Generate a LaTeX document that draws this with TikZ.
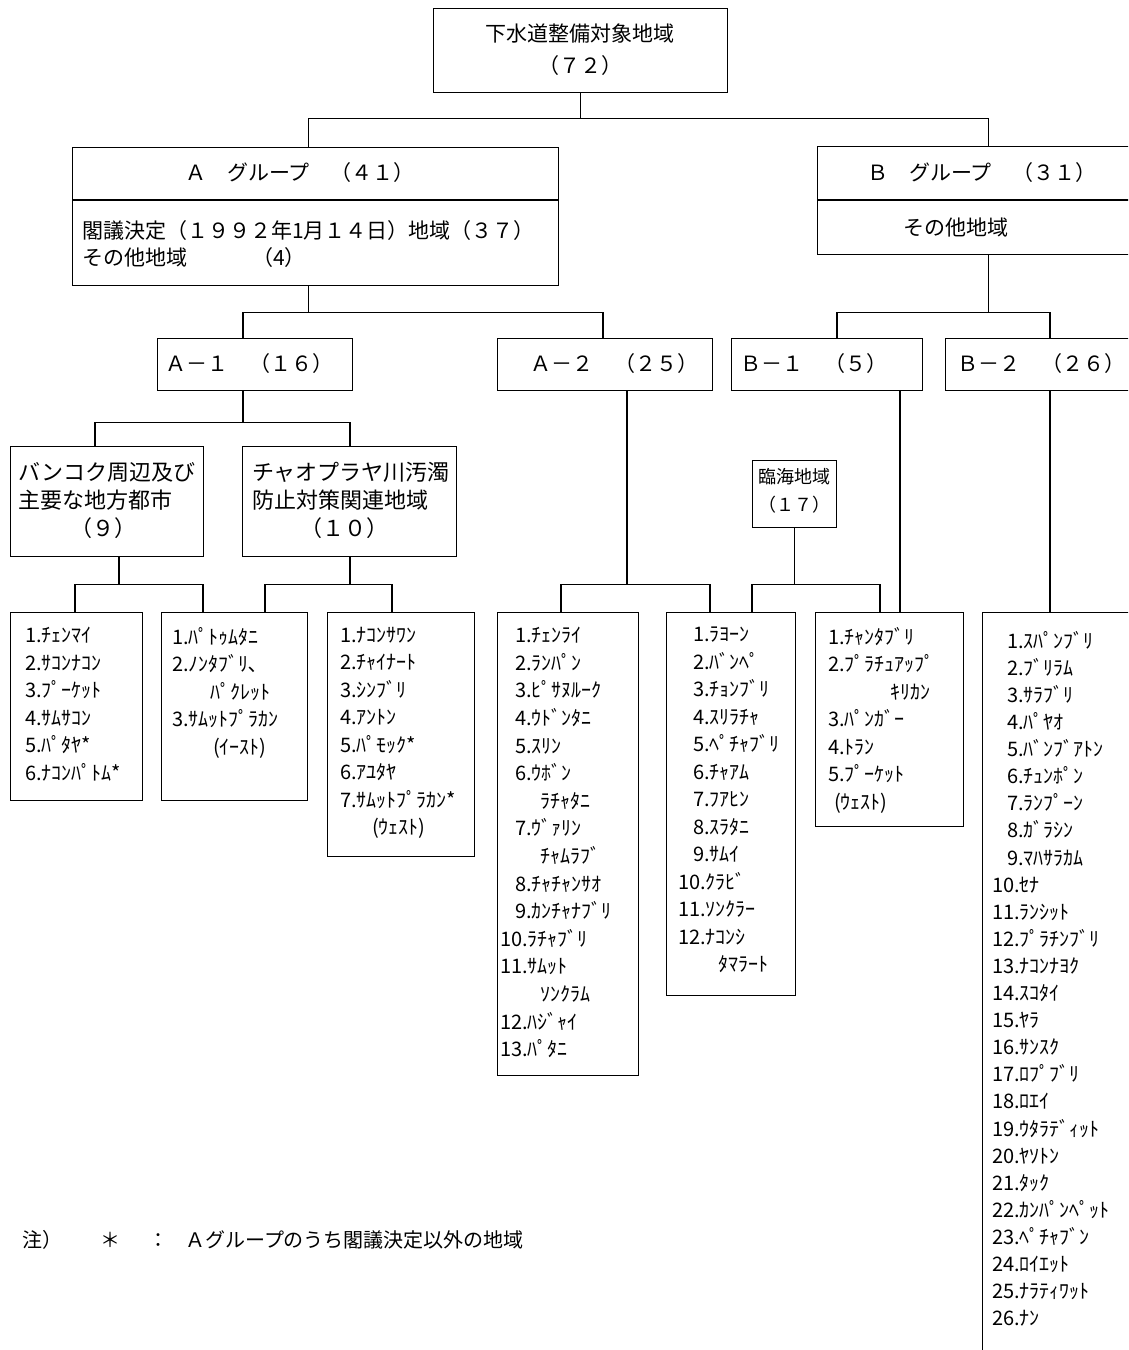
\documentclass[tikz,border=0pt]{standalone}
\usepackage{fontspec}
\setmainfont{Noto Sans CJK JP}
\newcommand\lsi{\hspace*{15pt}}
\tikzset{
  bx/.style={draw, line width=1.2pt, inner sep=0pt, anchor=north west},
  cn/.style={line width=1.2pt},
  bt/.style={font=\fontsize{21}{27}\selectfont, inner sep=0pt},
  lt/.style={font=\fontsize{20}{27.5}\selectfont, align=left, inner sep=0pt, anchor=north west},
}
\begin{document}
\begin{tikzpicture}[x=1pt,y=-1pt]
\useasboundingbox (0,0) rectangle (1128,1350);
\clip (0,0) rectangle (1128,1350);
\fill[white] (0,0) rectangle (1128,1350);

% ---------- boxes ----------
\node[bx, minimum width=294pt, minimum height=84pt]  (top) at (433,8) {};
\node[bx, minimum width=486pt, minimum height=138pt] (A)   at (72,147) {};
\node[bx, minimum width=342pt, minimum height=108pt] (B)   at (817,146) {};
\node[bx, minimum width=195pt, minimum height=52pt]  (A1)  at (157,338) {};
\node[bx, minimum width=215pt, minimum height=52pt]  (A2)  at (497,338) {};
\node[bx, minimum width=191pt, minimum height=52pt]  (B1)  at (731,338) {};
\node[bx, minimum width=200pt, minimum height=52pt]  (B2)  at (945,338) {};
\node[bx, minimum width=193pt, minimum height=110pt] (BK)  at (10,446) {};
\node[bx, minimum width=214pt, minimum height=110pt] (CH)  at (242,446) {};
\node[bx, minimum width=84pt,  minimum height=67pt]  (RK)  at (752,460) {};
\node[bx, minimum width=132pt, minimum height=188pt] (L1)  at (10,612) {};
\node[bx, minimum width=146pt, minimum height=188pt] (L2)  at (161,612) {};
\node[bx, minimum width=147pt, minimum height=244pt] (L3)  at (327,612) {};
\node[bx, minimum width=141pt, minimum height=463pt] (L4)  at (497,612) {};
\node[bx, minimum width=129pt, minimum height=383pt] (L5)  at (666,612) {};
\node[bx, minimum width=148pt, minimum height=214pt] (L6)  at (815,612) {};
\node[bx, minimum width=170pt, minimum height=760pt] (L7)  at (982,612) {};

% dividers
\draw[cn] ([yshift=-53pt]A.north west) -- ([yshift=-53pt]A.north east);
\draw[cn] ([yshift=-54pt]B.north west) -- ([yshift=-54pt]B.north east);

% ---------- box texts ----------
\node[bt, align=center, font=\fontsize{21}{32}\selectfont] (topT) at (580,50) {下水道整備対象地域\\（７２）};
\node[bt] (AT1) at (300,173) {Ａ　グループ　（４１）};
\node[bt, align=left, anchor=north west] (AT2) at (82,220) {閣議決定（１９９２年1月１４日）地域（３７）\\その他地域\hspace{65pt}（4）};
\node[bt] (BT1) at (982,173) {Ｂ　グループ　（３１）};
\node[bt] (BT2) at (956,228) {その他地域};
\node[bt, anchor=west] (A1T) at (165,364) {Ａ－１　（１６）};
\node[bt, anchor=west] (A2T) at (530,364) {Ａ－２　（２５）};
\node[bt, anchor=west] (B1T) at (740,364) {Ｂ－１　（５）};
\node[bt, anchor=west] (B2T) at (957,364) {Ｂ－２　（２６）};
\node[bt, align=left, anchor=north west, font=\fontsize{22}{28}\selectfont] (BKT) at (18,462)
  {バンコク周辺及び\\主要な地方都市\\\hspace*{52pt}（９）};
\node[bt, align=left, anchor=north west, font=\fontsize{22}{28}\selectfont] (CHT) at (252,462)
  {チャオプラヤ川汚濁\\防止対策関連地域\\\hspace*{48pt}（１０）};
\node[bt, align=center, font=\fontsize{18}{28}\selectfont] (RKT) at (794,491) {臨海地域\\（１７）};

% ---------- lists ----------
\node[lt] (L1T) at (25,627) {1.ﾁｪﾝﾏｲ\\2.ｻｺﾝﾅｺﾝ\\3.ﾌﾟｰｹｯﾄ\\4.ｻﾑｻｺﾝ\\5.ﾊﾟﾀﾔ*\\6.ﾅｺﾝﾊﾟﾄﾑ*};
\node[lt] (L2T) at (172,627) {1.ﾊﾟﾄｩﾑﾀﾆ\\2.ﾉﾝﾀﾌﾞﾘ､\\\hspace*{38pt}ﾊﾟｸﾚｯﾄ\\3.ｻﾑｯﾄﾌﾟﾗｶﾝ\\\hspace*{41pt}(ｲｰｽﾄ)};
\node[lt] (L3T) at (340,627) {1.ﾅｺﾝｻﾜﾝ\\2.ﾁｬｲﾅｰﾄ\\3.ｼﾝﾌﾞﾘ\\4.ｱﾝﾄﾝ\\5.ﾊﾟﾓｯｸ*\\6.ｱﾕﾀﾔ\\7.ｻﾑｯﾄﾌﾟﾗｶﾝ*\\\hspace*{32pt}(ｳｪｽﾄ)};
\node[lt, font=\fontsize{20}{27.6}\selectfont] (L4T) at (500,627) {\lsi 1.ﾁｪﾝﾗｲ\\\lsi 2.ﾗﾝﾊﾟﾝ\\\lsi 3.ﾋﾟｻﾇﾙｰｸ\\\lsi 4.ｳﾄﾞﾝﾀﾆ\\\lsi 5.ｽﾘﾝ\\\lsi 6.ｳﾎﾞﾝ\\\hspace*{40pt}ﾗﾁｬﾀﾆ\\\lsi 7.ｳﾞｧﾘﾝ\\\hspace*{40pt}ﾁｬﾑﾗﾌﾞ\\\lsi 8.ﾁｬﾁｬﾝｻｵ\\\lsi 9.ｶﾝﾁｬﾅﾌﾞﾘ\\10.ﾗﾁｬﾌﾞﾘ\\11.ｻﾑｯﾄ\\\hspace*{40pt}ｿﾝｸﾗﾑ\\12.ﾊｼﾞｬｲ\\13.ﾊﾟﾀﾆ};
\node[lt] (L5T) at (678,627) {\lsi 1.ﾗﾖｰﾝ\\\lsi 2.ﾊﾞﾝﾍﾟ\\\lsi 3.ﾁｮﾝﾌﾞﾘ\\\lsi 4.ｽﾘﾗﾁｬ\\\lsi 5.ﾍﾟﾁｬﾌﾞﾘ\\\lsi 6.ﾁｬｱﾑ\\\lsi 7.ﾌｱﾋﾝ\\\lsi 8.ｽﾗﾀﾆ\\\lsi 9.ｻﾑｲ\\10.ｸﾗﾋﾞ\\11.ｿﾝｸﾗｰ\\12.ﾅｺﾝｼ\\\hspace*{40pt}ﾀﾏﾗｰﾄ};
\node[lt] (L6T) at (828,627) {1.ﾁｬﾝﾀﾌﾞﾘ\\2.ﾌﾟﾗﾁｭｱｯﾌﾟ\\\hspace*{62pt}ｷﾘｶﾝ\\3.ﾊﾟﾝｶﾞｰ\\4.ﾄﾗﾝ\\5.ﾌﾟｰｹｯﾄ\\\hspace*{6pt}(ｳｪｽﾄ)};
\node[lt, font=\fontsize{20}{27.1}\selectfont] (L7T) at (992,631) {\lsi 1.ｽﾊﾟﾝﾌﾞﾘ\\\lsi 2.ﾌﾞﾘﾗﾑ\\\lsi 3.ｻﾗﾌﾞﾘ\\\lsi 4.ﾊﾟﾔｵ\\\lsi 5.ﾊﾞﾝﾌﾞｱﾄﾝ\\\lsi 6.ﾁｭﾝﾎﾟﾝ\\\lsi 7.ﾗﾝﾌﾟｰﾝ\\\lsi 8.ｶﾞﾗｼﾝ\\\lsi 9.ﾏﾊｻﾗｶﾑ\\10.ｾﾅ\\11.ﾗﾝｼｯﾄ\\12.ﾌﾟﾗﾁﾝﾌﾞﾘ\\13.ﾅｺﾝﾅﾖｸ\\14.ｽｺﾀｲ\\15.ﾔﾗ\\16.ｻﾝｽｸ\\17.ﾛﾌﾟﾌﾞﾘ\\18.ﾛｴｲ\\19.ｳﾀﾗﾃﾞｨｯﾄ\\20.ﾔｿﾄﾝ\\21.ﾀｯｸ\\22.ｶﾝﾊﾟﾝﾍﾟｯﾄ\\23.ﾍﾟﾁｬﾌﾞﾝ\\24.ﾛｲｴｯﾄ\\25.ﾅﾗﾃｨﾜｯﾄ\\26.ﾅﾝ};

% ---------- note ----------
\node[bt, anchor=west, font=\fontsize{20}{24}\selectfont] (note) at (22,1240) {注）\hspace{38pt}＊\hspace{28pt}：\hspace{17pt}Ａグループのうち閣議決定以外の地域};

% ---------- connectors ----------
\draw[cn] (top.south) -- ++(0,25) -| ([xshift=-7pt]A.north);
\draw[cn] (top.south) -- ++(0,25) -| (B.north);
\draw[cn] ([xshift=-7pt]A.south) -- ++(0,26) -| ([xshift=86pt]A1.north west);
\draw[cn] ([xshift=-7pt]A.south) -- ++(0,26) -| ([xshift=106pt]A2.north west);
\draw[cn] (B.south) -- ++(0,57) -| ([xshift=106pt]B1.north west);
\draw[cn] (B.south) -- ++(0,57) -| ([xshift=105pt]B2.north west);
\draw[cn] ([xshift=86pt]A1.south west) -- ++(0,31) -| ([xshift=85pt]BK.north west);
\draw[cn] ([xshift=86pt]A1.south west) -- ++(0,31) -| ([xshift=108pt]CH.north west);
\draw[cn] ([xshift=109pt]BK.south west) -- ++(0,27) -| ([xshift=65pt]L1.north west);
\draw[cn] ([xshift=109pt]BK.south west) -- ++(0,27) -| ([xshift=42pt]L2.north west);
\draw[cn] ([xshift=108pt]CH.south west) -- ++(0,27) -| ([xshift=104pt]L2.north west);
\draw[cn] ([xshift=108pt]CH.south west) -- ++(0,27) -| ([xshift=65pt]L3.north west);
\draw[cn] ([xshift=130pt]A2.south west) -- ++(0,193) -| ([xshift=64pt]L4.north west);
\draw[cn] ([xshift=130pt]A2.south west) -- ++(0,193) -| ([xshift=44pt]L5.north west);
\draw[cn] (RK.south) -- ++(0,56) -| ([xshift=86pt]L5.north west);
\draw[cn] (RK.south) -- ++(0,56) -| ([xshift=65pt]L6.north west);
\draw[cn] ([xshift=169pt]B1.south west) -- ([xshift=85pt]L6.north west);
\draw[cn] ([xshift=105pt]B2.south west) -- ([xshift=68pt]L7.north west);
\end{tikzpicture}
\end{document}
